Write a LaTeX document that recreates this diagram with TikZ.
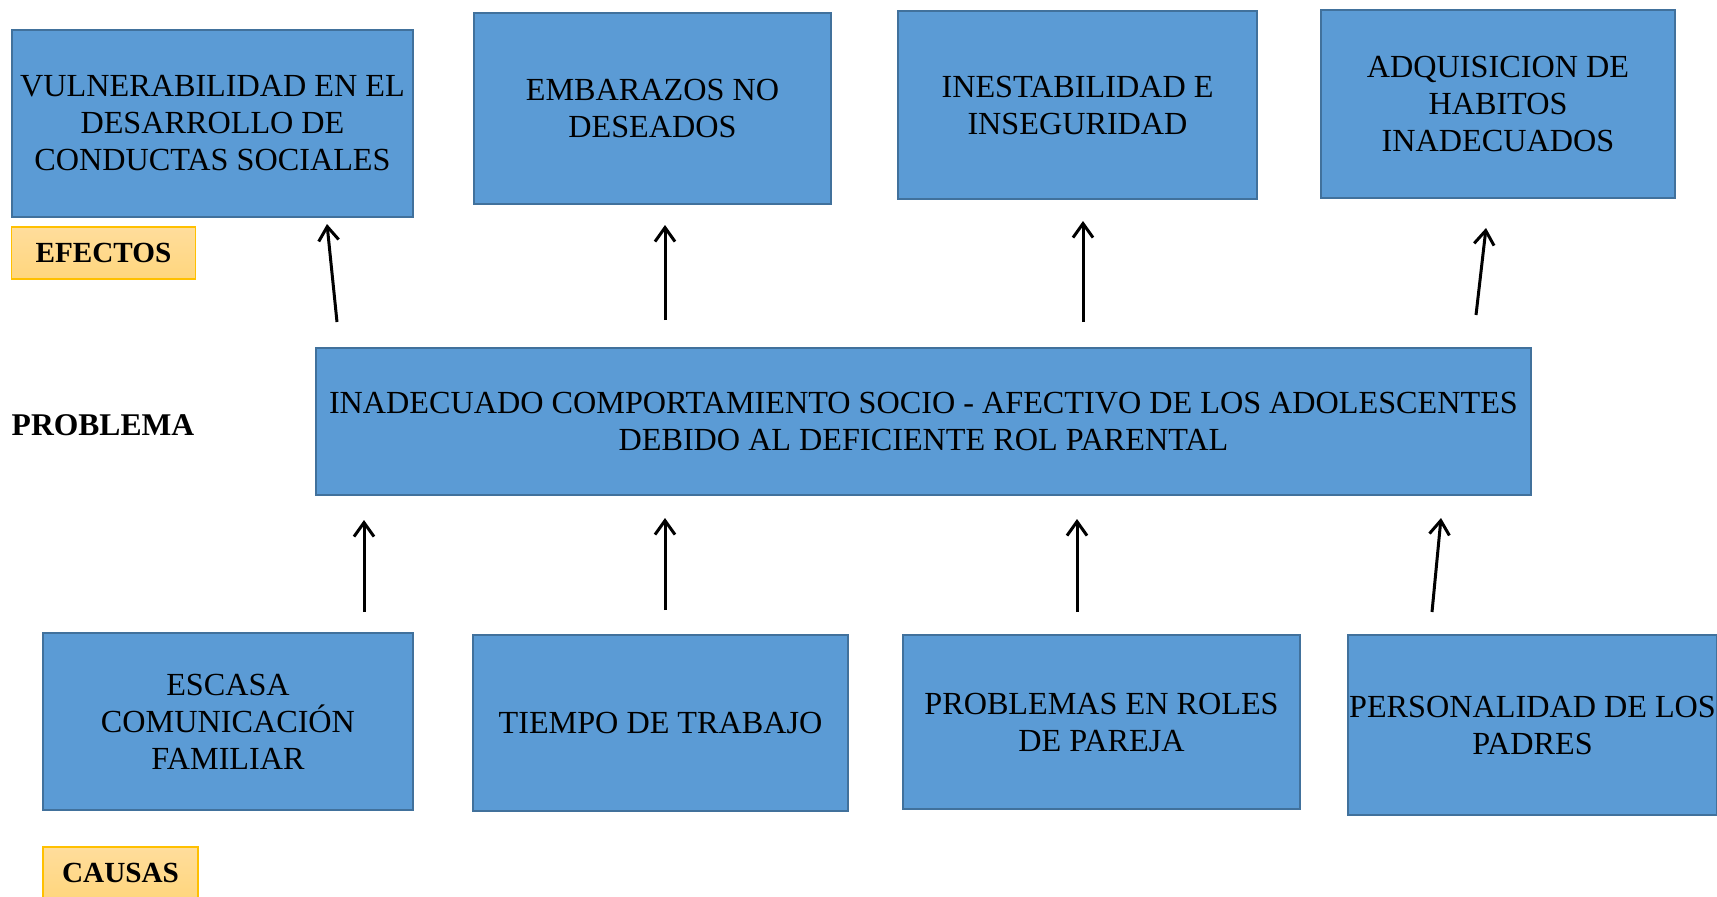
\documentclass[tikz,border=0pt]{standalone}
\usepackage{fontspec}
\setmainfont{Liberation Serif}
\usetikzlibrary{arrows.meta}

\begin{document}
\begin{tikzpicture}[
    x=0.5pt, y=-0.5pt,       % one unit = one pixel of the sketch
    >={Straight Barb[length=7pt,width=10pt]},
    bluebox/.style={
        draw=colorBorder,
        line width=1pt,
        fill=colorBox,
        align=center,
        inner sep=0pt,
        font=\fontsize{16.1}{18.5}\selectfont
    },
    tagbox/.style={
        draw=colorTagBorder,
        line width=0.6pt,
        top color=colorTagTop,
        bottom color=colorTagBottom,
        inner sep=0pt,
        minimum width=92pt,
        minimum height=26pt,
        font=\fontsize{14.6}{17}\selectfont\bfseries
    },
    link/.style={line width=1.5pt, ->}
]

%--- Define colors ---
\definecolor{colorBox}{RGB}{91,155,213}        % Blue
\definecolor{colorBorder}{RGB}{65,113,156}     % Dark blue border
\definecolor{colorTagTop}{RGB}{255,221,156}    % Light orange
\definecolor{colorTagBottom}{RGB}{255,214,125} % Orange
\definecolor{colorTagBorder}{RGB}{255,192,0}   % Gold border

\useasboundingbox (0,0) rectangle (1717,896);

%------------------------------------
% TOP ROW: EFFECTS
%------------------------------------

% 1) Vulnerability
\node[bluebox, minimum width=200.5pt, minimum height=93.5pt] (vulnerab)
    at (212.5,123.5) {VULNERABILIDAD EN EL\\DESARROLLO DE\\CONDUCTAS SOCIALES};

% 2) Pregnancies
\node[bluebox, minimum width=178.5pt, minimum height=95.5pt] (embarazos)
    at (652.5,108.5) {EMBARAZOS NO\\DESEADOS};

% 3) Instability
\node[bluebox, minimum width=179.5pt, minimum height=94pt] (inestab)
    at (1077.5,105) {INESTABILIDAD E\\INSEGURIDAD};

% 4) Habits
\node[bluebox, minimum width=177pt, minimum height=94pt] (habitos)
    at (1498,104) {ADQUISICION DE\\HABITOS\\INADECUADOS};

% Label
\node[tagbox] (efectos) at (103.5,253) {EFECTOS};

%------------------------------------
% MIDDLE: PROBLEM
%------------------------------------

\node[bluebox, minimum width=607.5pt, minimum height=73.5pt] (problema)
    at (923.5,421.5)
    {INADECUADO COMPORTAMIENTO SOCIO - AFECTIVO DE LOS ADOLESCENTES\\DEBIDO AL DEFICIENTE ROL PARENTAL};

\node[font=\fontsize{15.8}{18.5}\selectfont\bfseries] (problemaLbl)
    at (103,425) {PROBLEMA};

%------------------------------------
% BOTTOM ROW: CAUSES
%------------------------------------

% 1) Communication
\node[bluebox, minimum width=185pt, minimum height=88.5pt] (comunic)
    at (228,721.5) {ESCASA\\COMUNICACIÓN\\FAMILIAR};

% 2) Work time
\node[bluebox, minimum width=187.5pt, minimum height=88pt] (trabajo)
    at (660.5,723) {TIEMPO DE TRABAJO};

% 3) Couple roles
\node[bluebox, minimum width=198.5pt, minimum height=87pt] (pareja)
    at (1101.5,722) {PROBLEMAS EN ROLES\\DE PAREJA};

% 4) Parents' personality
\node[bluebox, minimum width=184.5pt, minimum height=90pt] (padres)
    at (1532.5,725) {PERSONALIDAD DE LOS\\PADRES};

% Label
\node[tagbox, minimum width=77.5pt] (causas) at (120.5,873) {CAUSAS};

%------------------
% ARROW ENDS
%------------------

% problem -> effects
\coordinate (e1a) at (337,322);  \coordinate (e1b) at (327,224);
\coordinate (e2a) at (665,320);  \coordinate (e2b) at (665,225);
\coordinate (e3a) at (1083,322); \coordinate (e3b) at (1083,221);
\coordinate (e4a) at (1476,315); \coordinate (e4b) at (1486,228);

% causes -> problem
\coordinate (c1a) at (364,612);  \coordinate (c1b) at (364,520);
\coordinate (c2a) at (665,610);  \coordinate (c2b) at (665,518);
\coordinate (c3a) at (1077,612); \coordinate (c3b) at (1077,519);
\coordinate (c4a) at (1432,612); \coordinate (c4b) at (1441,518);

%------------------
% EDGES (ARROWS)
%------------------

\draw[link] (e1a) -- (e1b);
\draw[link] (e2a) -- (e2b);
\draw[link] (e3a) -- (e3b);
\draw[link] (e4a) -- (e4b);

\draw[link] (c1a) -- (c1b);
\draw[link] (c2a) -- (c2b);
\draw[link] (c3a) -- (c3b);
\draw[link] (c4a) -- (c4b);

\end{tikzpicture}
\end{document}
